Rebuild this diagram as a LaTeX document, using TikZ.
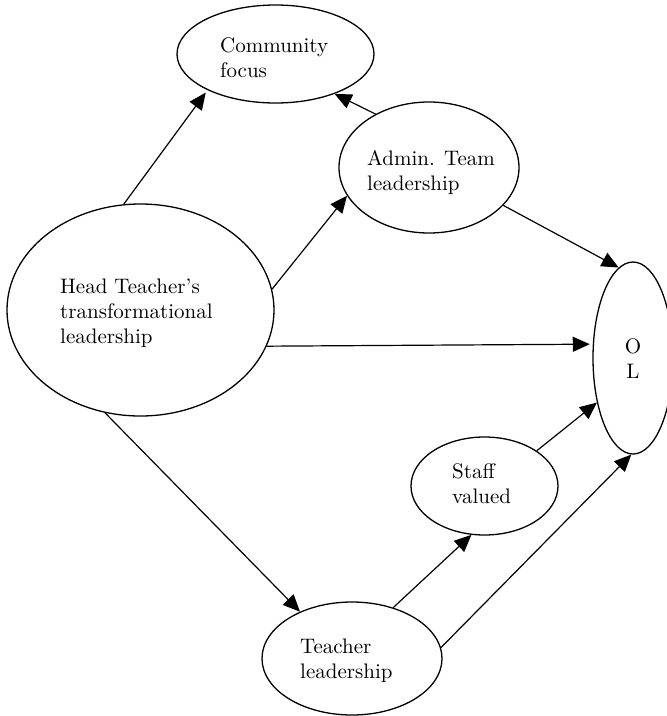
\documentclass[tikz,border=0pt]{standalone}
\usepackage{fontspec}
\setmainfont{lmroman10-regular.otf}
\usetikzlibrary{arrows.meta,shapes.geometric}

\tikzset{
  bubble/.style={draw, ellipse, line width=1.3pt, inner sep=0pt},
  label text/.style={anchor=base west, inner sep=0pt, font=\fontsize{21}{25}\selectfont},
  link/.style={line width=1.2pt, -{Triangle[length=17pt,width=15pt]}}
}

\newcommand{\lines}[1]{\begin{tabular}[t]{@{}l@{}}#1\end{tabular}}

\begin{document}
\begin{tikzpicture}[x=1pt, y=-1pt]
  \useasboundingbox (0,0) rectangle (667,716);

  % ellipses
  \node[bubble, minimum width=197pt, minimum height=98pt]  (cf) at (275.5,54)  {};
  \node[bubble, minimum width=180pt, minimum height=131pt] (at) at (429,167.5) {};
  \node[bubble, minimum width=267pt, minimum height=212pt] (ht) at (140.5,310) {};
  \node[bubble, minimum width=80pt,  minimum height=192pt] (ol) at (633,358)   {};
  \node[bubble, minimum width=147pt, minimum height=98pt]  (sv) at (484.5,486) {};
  \node[bubble, minimum width=180pt, minimum height=113pt] (tl) at (352,658.5) {};

  % texts
  \node[label text] (cft) at (220,52)  {\lines{Community\\focus}};
  \node[label text] (att) at (367,165) {\lines{Admin. Team\\leadership}};
  \node[label text] (htt) at (60,293)  {\lines{Head Teacher’s\\transformational\\leadership}};
  \node[label text, anchor=base] (olt) at (633,353)
    {\begin{tabular}[t]{@{}c@{}}O\\L\end{tabular}};
  \node[label text] (svt) at (452,478) {\lines{Staff\\valued}};
  \node[label text] (tlt) at (300,653) {\lines{Teacher\\leadership}};

  % paths
  \draw[link, shorten >=3pt] (ht.99.7)  -- (cf.208.3);
  \draw[link] (at.135.8) -- (cf.326.3);
  \draw[link] (ht.9.5)   -- (at.199.4);
  \draw[link] (at.333.1) -- (ol.99.9);
  \draw[link, shorten >=3pt] (ht.344.6) -- (ol.161.8);
  \draw[link] (sv.34.4)  -- (ol.231.2);
  \draw[link] (tl.7.4)   -- (ol.269.4);
  \draw[link] (tl.51.2)  -- (sv.255.7);
  \draw[link] (ht.251)   -- (tl.138.1);
\end{tikzpicture}
\end{document}
